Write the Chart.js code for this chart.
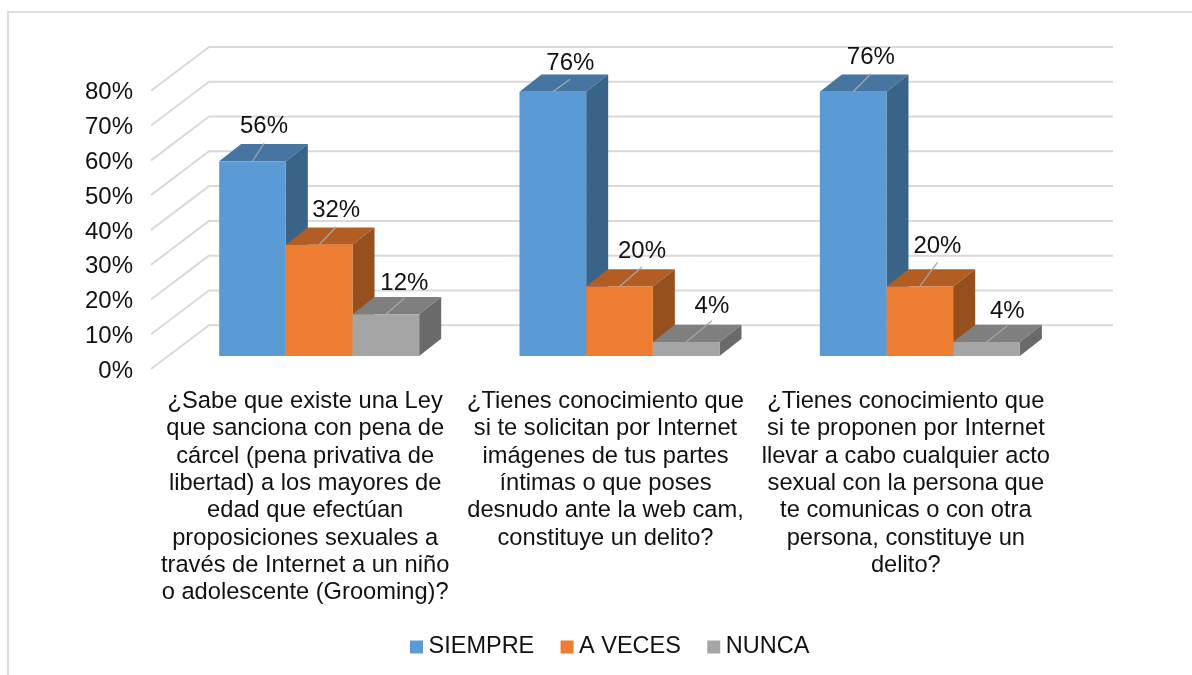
<!DOCTYPE html>
<html><head><meta charset="utf-8">
<style>html,body{margin:0;padding:0;background:#fff;overflow:hidden}
#wrap{position:relative;width:1192px;height:675px;overflow:hidden}
#frame{position:absolute;left:7px;top:11px;width:1185px;height:664px;border-left:2px solid #DCDCDC;border-top:2px solid #DCDCDC;box-sizing:border-box}
canvas{position:absolute;left:0;top:0}</style>
<script src="https://cdn.jsdelivr.net/npm/chart.js@4"></script>
</head><body><div id="wrap"><div id="frame"></div><canvas id="c" width="1192" height="675"></canvas></div>
<script>
const categories = [
 ["¿Sabe que existe una Ley","que sanciona con pena de","cárcel (pena privativa de","libertad) a los mayores de","edad que efectúan","proposiciones sexuales a","través de Internet a un niño","o adolescente (Grooming)?"],
 ["¿Tienes conocimiento que","si te solicitan por Internet","imágenes de tus partes","íntimas o que poses","desnudo ante la web cam,","constituye un delito?"],
 ["¿Tienes conocimiento que","si te proponen por Internet","llevar a cabo cualquier acto","sexual con la persona que","te comunicas o con otra","persona, constituye un","delito?"]
];
const siempre = [56, 76, 76];
const aVeces = [32, 20, 20];
const nunca = [12, 4, 4];
const seriesNames = ["SIEMPRE", "A VECES", "NUNCA"];
const frontColors = ["#5B9BD5", "#ED7D31", "#A5A5A5"];
const topColors = ["#4775A2", "#B15D23", "#7F7F7F"];
const sideColors = ["#3A6487", "#95501D", "#6A6A6A"];
const yTicks = [0,10,20,30,40,50,60,70,80];
// leader-line layout per series/category: [dx, lineDy, textDy]
const leaderLayout = [
 [[11.5,-18,-37],[17.5,-12.7,-30],[17.7,-18,-36]],
 [[17,-18,-36],[22.5,-19.4,-36.7],[17.6,-24,-41.7]],
 [[18.5,-16,-33],[25.7,-21.4,-38],[20.8,-16.3,-32.7]]
];
const LABEL_FONT = '24px "Liberation Sans", Arial, sans-serif';
const LEGEND_FONT = '23.5px "Liberation Sans", Arial, sans-serif';
const DEPTH_X = 22, DEPTH_Y = 17.3;

const threeD = {
 id:'threeD',
 beforeDatasetsDraw(chart){
  const {ctx, scales:{y}} = chart;
  ctx.save();
  ctx.strokeStyle='#D9D9D9'; ctx.lineWidth=2; ctx.lineJoin='round';
  yTicks.forEach(v=>{
   const p=y.getPixelForValue(v);
   ctx.beginPath();
   ctx.moveTo(151,p+13); ctx.lineTo(209,p-30.8); ctx.lineTo(1113,p-30.8); ctx.stroke();
  });
  chart.data.datasets.forEach((ds,i)=>{
   chart.getDatasetMeta(i).data.forEach(b=>{
    const l=b.x-b.width/2, r=b.x+b.width/2, t=b.y, bt=b.base;
    ctx.fillStyle=topColors[i];
    ctx.beginPath(); ctx.moveTo(l,t); ctx.lineTo(l+DEPTH_X,t-DEPTH_Y); ctx.lineTo(r+DEPTH_X,t-DEPTH_Y); ctx.lineTo(r,t); ctx.closePath(); ctx.fill();
    ctx.fillStyle=sideColors[i];
    ctx.beginPath(); ctx.moveTo(r,t); ctx.lineTo(r+DEPTH_X,t-DEPTH_Y); ctx.lineTo(r+DEPTH_X,bt-DEPTH_Y); ctx.lineTo(r,bt); ctx.closePath(); ctx.fill();
   });
  });
  ctx.restore();
 },
 afterDatasetsDraw(chart){
  const {ctx} = chart;
  ctx.save();
  ctx.font=LABEL_FONT; ctx.textAlign='center'; ctx.textBaseline='middle';
  chart.data.datasets.forEach((ds,i)=>{
   chart.getDatasetMeta(i).data.forEach((b,j)=>{
    const [dx,ly,ty]=leaderLayout[i][j];
    ctx.strokeStyle='#A6A6A6'; ctx.lineWidth=1.3;
    ctx.beginPath(); ctx.moveTo(b.x,b.y); ctx.lineTo(b.x+dx,b.y+ly); ctx.stroke();
    ctx.fillStyle='#111';
    ctx.fillText(ds.data[j]+'%',b.x+dx,b.y+ty+1.8);
   });
  });
  // legend
  ctx.font=LEGEND_FONT; ctx.textAlign='left';
  let x=410; const gap=26.3;
  seriesNames.forEach((n,i)=>{
   ctx.fillStyle=frontColors[i]; ctx.fillRect(x,640.5,13,13);
   ctx.fillStyle='#111'; ctx.fillText(n,x+18.5,646.5);
   x+=18.5+ctx.measureText(n).width+gap;
  });
  ctx.restore();
 }
};

new Chart(document.getElementById('c'),{
 type:'bar',
 data:{labels:categories,datasets:[siempre,aVeces,nunca].map((d,i)=>({label:seriesNames[i],data:d,backgroundColor:frontColors[i],borderWidth:0}))},
 options:{
  responsive:false,animation:false,
  layout:{padding:{left:0,right:122,top:77.8,bottom:0}},
  plugins:{legend:{display:false},tooltip:{enabled:false}},
  datasets:{bar:{categoryPercentage:0.666,barPercentage:1}},
  scales:{
   x:{grid:{display:false},border:{display:false},
      ticks:{color:'#111',font:{family:'"Liberation Sans"',size:23.7,lineHeight:27.3/23.7},maxRotation:0,minRotation:0,autoSkip:false,padding:24,labelOffset:-14},
      afterFit(s){s.height=319;}},
   y:{min:0,max:80,grid:{display:false},border:{display:false},
      afterBuildTicks(s){s.ticks=yTicks.map(v=>({value:v}));},
      ticks:{color:'#111',font:{family:'"Liberation Sans"',size:24},padding:28,labelOffset:15,callback:v=>v+'%'},
      afterFit(s){s.width=169;}}
  }
 },
 plugins:[threeD]
});
</script></body></html>
